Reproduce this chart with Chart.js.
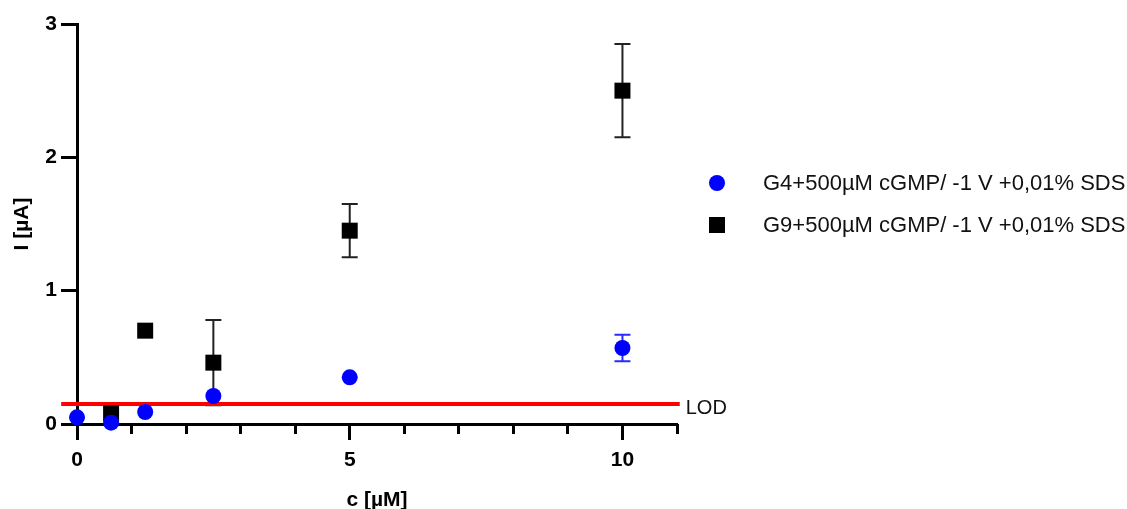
<!DOCTYPE html>
<html lang="en">
    <head>
        <meta charset="UTF-8" />
        <title>I vs c</title>
        <script src="https://cdn.jsdelivr.net/npm/chart.js"></script>
        <style>
            body {
                margin: 0;
                background: #fff;
                font-family: "Liberation Sans", Arial, sans-serif;
            }
            .wrap {
                position: relative;
                width: 1127px;
                height: 509px;
            }
            .legend {
                position: absolute;
                left: 709px;
                top: 170px;
            }
            .legend-item {
                display: flex;
                align-items: center;
                height: 26px;
                margin-bottom: 16px;
                font-size: 22px;
                color: #111;
                white-space: nowrap;
            }
            .legend-item .mark {
                width: 16px;
                height: 16px;
                margin-right: 38px;
            }
        </style>
    </head>
    <body>
        <div class="wrap">
            <canvas id="chart" width="1127" height="509"></canvas>
            <div class="legend" id="legend"></div>
        </div>

        <script>
            // concentrations (µM)
            const concentrations = [0, 0.625, 1.25, 2.5, 5, 10];

            // G4 series (µA) with error
            const g4Values = [0.05, 0.01, 0.09, 0.21, 0.35, 0.57];
            const g4Errors = [0, 0, 0, 0, 0, 0.1];

            // G9 series (µA) with error
            const g9Values = [null, 0.08, 0.7, 0.46, 1.45, 2.5];
            const g9Errors = [0, 0, 0, 0.32, 0.2, 0.35];

            const lodLevel = 0.15;
            const lodSpan = [-0.29, 11.05];

            const xMajorTicks = [0, 5, 10];
            const xMinorTicks = [0, 1, 2, 3, 4, 5, 6, 7, 8, 9, 10, 11];
            const yTicks = [0, 1, 2, 3];

            const labels = [
                "G4+500µM cGMP/ -1 V +0,01% SDS",
                "G9+500µM cGMP/ -1 V +0,01% SDS",
            ];

            const FONT = "'Liberation Sans', Arial, sans-serif";

            function toPoints(values) {
                return concentrations
                    .map((c, i) => ({ x: c, y: values[i] }))
                    .filter((p) => p.y !== null);
            }

            // error bars are drawn under the markers
            const errorBars = {
                id: "errorBars",
                beforeDatasetsDraw(chart) {
                    const ctx = chart.ctx;
                    const xs = chart.scales.x;
                    const ys = chart.scales.y;
                    chart.data.datasets.forEach((ds) => {
                        if (!ds.errors) return;
                        ctx.save();
                        ctx.strokeStyle = ds.errorColor;
                        ctx.lineWidth = 2;
                        concentrations.forEach((c, i) => {
                            const v = ds.values[i];
                            const e = ds.errors[i];
                            if (v === null || !e) return;
                            const px = xs.getPixelForValue(c);
                            const top = ys.getPixelForValue(v + e);
                            const bot = ys.getPixelForValue(v - e);
                            ctx.beginPath();
                            ctx.moveTo(px, top);
                            ctx.lineTo(px, bot);
                            ctx.moveTo(px - 8, top);
                            ctx.lineTo(px + 8, top);
                            ctx.moveTo(px - 8, bot);
                            ctx.lineTo(px + 8, bot);
                            ctx.stroke();
                        });
                        ctx.restore();
                    });
                },
                afterDatasetsDraw(chart) {
                    // LOD label at the end of the line
                    const ctx = chart.ctx;
                    const px = chart.scales.x.getPixelForValue(lodSpan[1]);
                    const py = chart.scales.y.getPixelForValue(lodLevel);
                    ctx.save();
                    ctx.fillStyle = "#111";
                    ctx.font = "20px " + FONT;
                    ctx.textBaseline = "middle";
                    ctx.fillText("LOD", px + 6, py + 4);
                    ctx.restore();
                },
            };

            const chart = new Chart(document.getElementById("chart"), {
                type: "scatter",
                data: {
                    datasets: [
                        {
                            label: labels[0],
                            data: toPoints(g4Values),
                            values: g4Values,
                            errors: g4Errors,
                            errorColor: "#2a2aff",
                            pointStyle: "circle",
                            pointRadius: 8,
                            backgroundColor: "#0000ff",
                            borderWidth: 0,
                            clip: false,
                        },
                        {
                            label: labels[1],
                            data: toPoints(g9Values),
                            values: g9Values,
                            errors: g9Errors,
                            errorColor: "#222",
                            pointStyle: "rect",
                            pointRadius: 11.3,
                            backgroundColor: "#000",
                            borderWidth: 0,
                            clip: false,
                        },
                        {
                            label: "LOD",
                            data: lodSpan.map((x) => ({ x: x, y: lodLevel })),
                            showLine: true,
                            borderColor: "#ff0000",
                            borderWidth: 4,
                            pointRadius: 0,
                            clip: false,
                        },
                    ],
                },
                options: {
                    responsive: false,
                    animation: false,
                    events: [],
                    layout: { padding: { left: 0, top: 24, right: 450, bottom: 0 } },
                    plugins: {
                        legend: { display: false },
                        tooltip: { enabled: false },
                    },
                    scales: {
                        x: {
                            type: "linear",
                            position: "bottom",
                            min: 0,
                            max: 11,
                            afterBuildTicks: (s) => {
                                s.ticks = xMajorTicks.map((v) => ({ value: v }));
                            },
                            afterFit: (s) => {
                                s.height = 85;
                            },
                            border: { display: true, color: "#000", width: 3 },
                            grid: {
                                drawOnChartArea: false,
                                drawTicks: true,
                                tickLength: 16,
                                tickWidth: 3,
                                tickColor: "#000",
                            },
                            ticks: {
                                color: "#000",
                                padding: 8,
                                font: { family: FONT, size: 21, weight: "bold" },
                            },
                            title: {
                                display: true,
                                text: "c [µM]",
                                color: "#000",
                                padding: { top: 0, bottom: -3.5 },
                                font: { family: FONT, size: 21, weight: "bold" },
                            },
                        },
                        xMinor: {
                            type: "linear",
                            position: { y: 0 },
                            min: 0,
                            max: 11,
                            afterBuildTicks: (s) => {
                                s.ticks = xMinorTicks.map((v) => ({ value: v }));
                            },
                            border: { display: false },
                            grid: {
                                drawOnChartArea: false,
                                drawTicks: true,
                                tickLength: 10,
                                tickWidth: 3,
                                tickColor: "#000",
                            },
                            ticks: { display: false },
                        },
                        y: {
                            type: "linear",
                            position: "left",
                            min: 0,
                            max: 3,
                            afterBuildTicks: (s) => {
                                s.ticks = yTicks.map((v) => ({ value: v }));
                            },
                            afterFit: (s) => {
                                s.width = 77;
                            },
                            border: { display: true, color: "#000", width: 3 },
                            grid: {
                                drawOnChartArea: false,
                                drawTicks: true,
                                tickLength: 16,
                                tickWidth: 3,
                                tickColor: "#000",
                            },
                            ticks: {
                                color: "#000",
                                padding: 4,
                                font: { family: FONT, size: 21, weight: "bold" },
                            },
                            title: {
                                display: true,
                                text: "I [µA]",
                                color: "#000",
                                padding: { top: 9.4, bottom: 0 },
                                font: { family: FONT, size: 21, weight: "bold" },
                            },
                        },
                    },
                },
                plugins: [errorBars],
            });

            // legend built from the two data series
            const legend = document.getElementById("legend");
            chart.data.datasets.slice(0, 2).forEach((ds) => {
                const item = document.createElement("div");
                item.className = "legend-item";
                const mark = document.createElement("span");
                mark.className = "mark";
                mark.style.background = ds.backgroundColor;
                if (ds.pointStyle === "circle") mark.style.borderRadius = "50%";
                const text = document.createElement("span");
                text.textContent = ds.label;
                item.appendChild(mark);
                item.appendChild(text);
                legend.appendChild(item);
            });
        </script>
    </body>
</html>
